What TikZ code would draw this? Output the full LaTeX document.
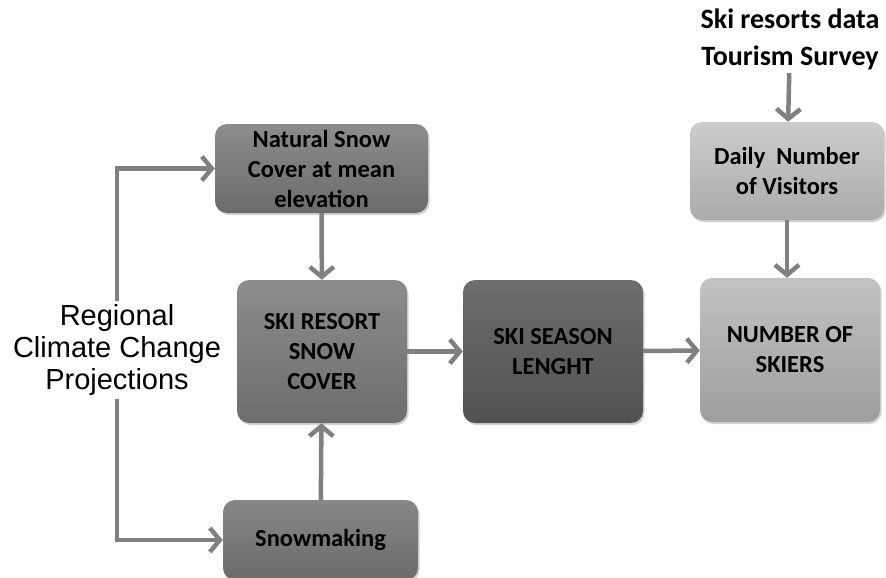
\documentclass[tikz,border=0pt]{standalone}
\usepackage{fontspec}
\setmainfont{Carlito}
\newfontfamily\regfont{Liberation Sans}
\usepackage{tikz}
\usetikzlibrary{positioning,arrows.meta,shadows}

\begin{document}
\begin{tikzpicture}[x=1pt, y=-1pt,
        box/.style={rounded corners=12pt, align=center, font=\fontsize{24.5}{30}\selectfont\bfseries,
            drop shadow={opacity=0.35, shadow xshift=1.5pt, shadow yshift=-2pt}},
        link/.style={draw=black!50, line width=4.5pt, -{Straight Barb[length=10pt,width=24pt]}}]
        \useasboundingbox (0,0) rectangle (886,578);

        \node [box, top color=black!45, bottom color=black!58, minimum width=213pt, minimum height=89pt] (natural) at (321.5,168.5) {Natural Snow\\Cover at mean\\elevation};
        \node [box, top color=black!45, bottom color=black!57, minimum width=170pt, minimum height=143pt] (resort) at (322,351.5) {SKI RESORT\\SNOW\\COVER};
        \node [box, top color=black!57, bottom color=black!68, minimum width=180pt, minimum height=143pt] (season) at (553,351.5) {SKI SEASON\\LENGHT};
        \node [box, top color=black!24, bottom color=black!38, minimum width=180pt, minimum height=144pt] (skiers) at (790,350) {NUMBER OF\\SKIERS};
        \node [box, top color=black!20, bottom color=black!33, minimum width=194pt, minimum height=98pt] (daily) at (787,171) {Daily~~Number\\of Visitors};
        \node [box, top color=black!47, bottom color=black!58, minimum width=195pt, minimum height=80pt] (snowmaking) at (320.5,540) {Snowmaking};

        \node [align=center, font=\regfont\fontsize{29}{32}\selectfont] (regional) at (117,350) {Regional\\Climate Change\\Projections};
        \node [align=center, font=\fontsize{28}{37}\selectfont\bfseries] (sources) at (790,39) {Ski resorts data\\Tourism Survey};

        \draw [link] (regional.north) |- (natural.west);
        \draw [link] (regional.south) |- (snowmaking.west);
        \draw [link] (natural) -- (resort);
        \draw [link] (snowmaking) -- (resort);
        \draw [link] (resort) -- (season);
        \draw [link] (season) -- (skiers);
        \draw [link] (sources) -- (daily);
        \draw [link] (daily.south) -- (daily.south |- skiers.north);
    \end{tikzpicture}
\end{document}
